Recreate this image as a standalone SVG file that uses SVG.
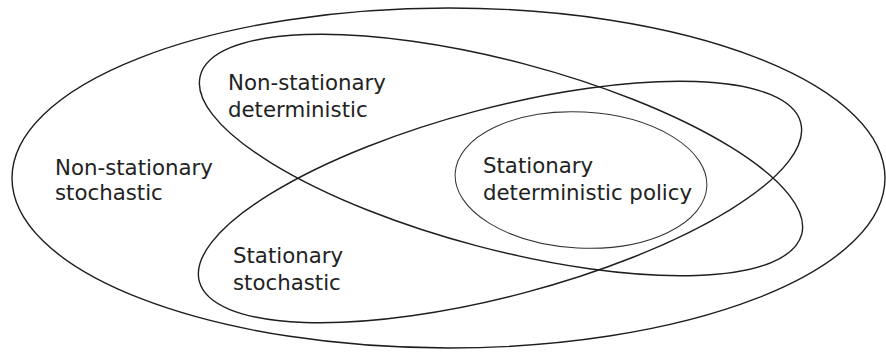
<svg xmlns="http://www.w3.org/2000/svg" width="886" height="352" viewBox="0 0 886 352">
<style>
.set{fill:none;stroke:#1e1e1e;stroke-width:1.4}
.inner{fill:none;stroke:#333;stroke-width:1}
.lbl{font-family:"DejaVu Sans",sans-serif;font-size:21.3px;fill:#222}
</style>
<rect width="886" height="352" fill="#fff"/>
<g id="non-stationary-stochastic">
<ellipse class="set" cx="448.5" cy="178" rx="436.5" ry="170"/>
<text class="lbl" x="55" y="175">Non-stationary</text>
<text class="lbl" x="55" y="200">stochastic</text>
</g>
<g id="non-stationary-deterministic">
<ellipse class="set" cx="501" cy="155" rx="311" ry="94" transform="rotate(14.8 501 155)"/>
<text class="lbl" x="228" y="90">Non-stationary</text>
<text class="lbl" x="228" y="117">deterministic</text>
</g>
<g id="stationary-stochastic">
<ellipse class="set" cx="500" cy="202" rx="311" ry="94" transform="rotate(-14.8 500 202)"/>
<text class="lbl" x="233" y="263">Stationary</text>
<text class="lbl" x="233" y="290">stochastic</text>
</g>
<g id="stationary-deterministic-policy">
<ellipse class="inner" cx="581" cy="180" rx="126" ry="68" transform="rotate(3 581 180)"/>
<text class="lbl" x="483" y="173">Stationary</text>
<text class="lbl" x="483" y="200">deterministic policy</text>
</g>
<g id="connectors"/>
</svg>
